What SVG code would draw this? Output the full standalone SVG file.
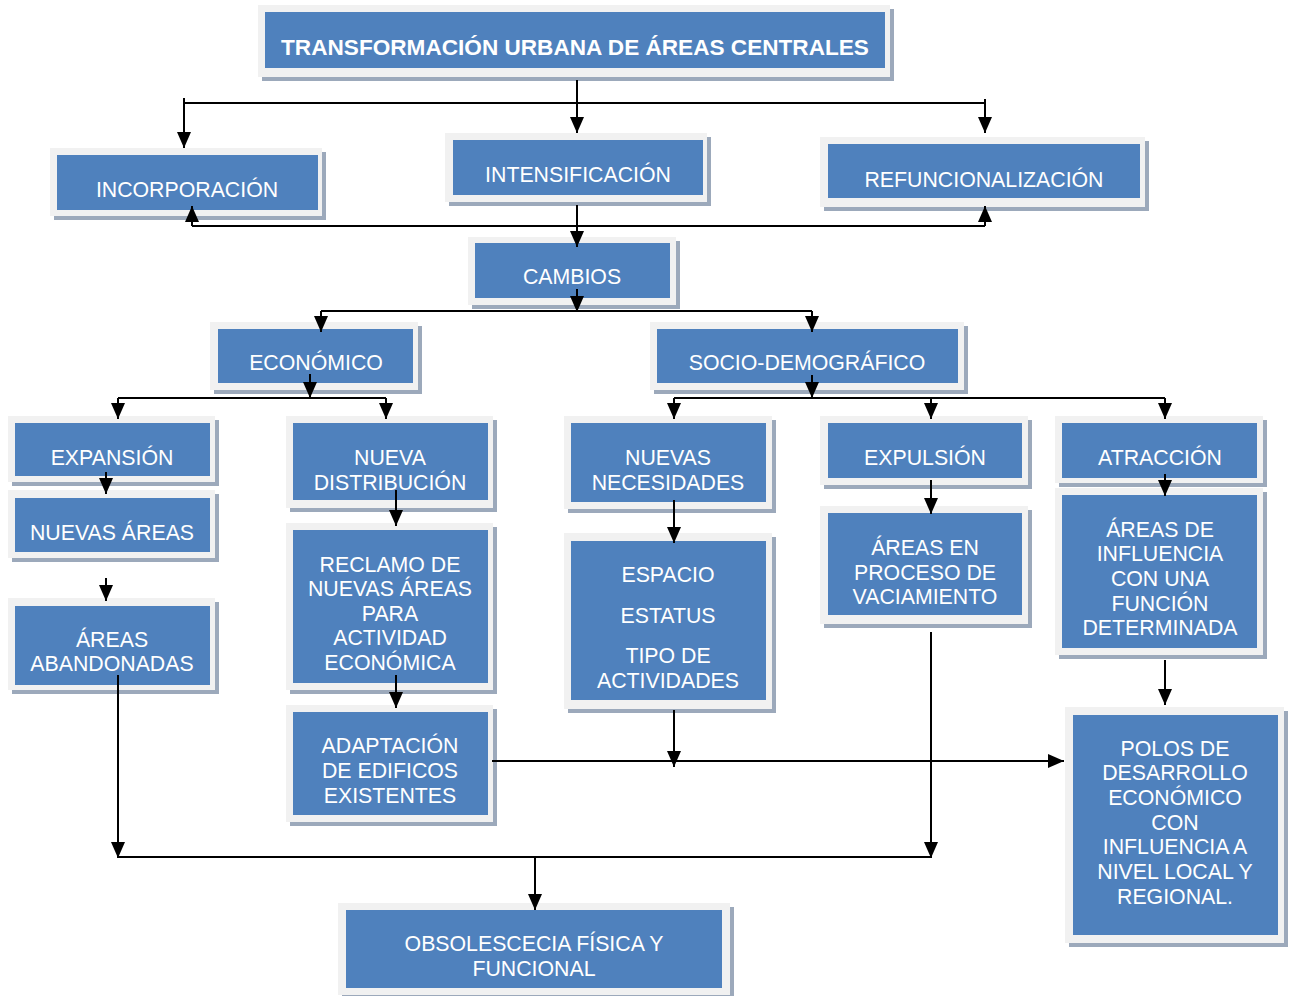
<svg xmlns="http://www.w3.org/2000/svg" width="1289" height="996" viewBox="0 0 1289 996">
<style>
.sh{fill:#9ca9bb}
.fr{fill:#f1f1f1}
.bl{fill:#4f81bd}
.t{font-family:"Liberation Sans",Arial,sans-serif;font-size:21.3px;fill:#ffffff;text-anchor:middle}
.tb{font-family:"Liberation Sans",Arial,sans-serif;font-size:22.6px;font-weight:bold;fill:#ffffff;text-anchor:middle}
.c{fill:none;stroke:#000;stroke-width:2}
.a{marker-end:url(#ah)}
</style>
<defs>
<marker id="ah" markerUnits="userSpaceOnUse" markerWidth="16" markerHeight="14" viewBox="0 0 16 14" refX="16" refY="7" orient="auto">
<path d="M0,0 L16,7 L0,14 z" fill="#000"/>
</marker>
</defs>
<rect width="1289" height="996" fill="#fff"/>

<g id="n-title"><rect class="sh" x="262" y="9" width="632" height="72"/><rect class="fr" x="258" y="5" width="632" height="72"/><rect class="bl" x="265" y="12" width="620" height="56"/><text class="tb" x="575" y="55">TRANSFORMACIÓN URBANA DE ÁREAS CENTRALES</text></g>

<g id="n-incorporacion"><rect class="sh" x="54" y="152" width="272" height="68"/><rect class="fr" x="50" y="148" width="272" height="68"/><rect class="bl" x="57" y="155" width="261" height="55"/><text class="t" x="187" y="197">INCORPORACIÓN</text></g>

<g id="n-intensificacion"><rect class="sh" x="449" y="137" width="262" height="69"/><rect class="fr" x="445" y="133" width="262" height="69"/><rect class="bl" x="453" y="140" width="250" height="55"/><text class="t" x="578" y="182">INTENSIFICACIÓN</text></g>

<g id="n-refuncionalizacion"><rect class="sh" x="824" y="141" width="325" height="70"/><rect class="fr" x="820" y="137" width="325" height="70"/><rect class="bl" x="828" y="144" width="312" height="54"/><text class="t" x="984" y="187">REFUNCIONALIZACIÓN</text></g>

<g id="n-cambios"><rect class="sh" x="472" y="241" width="208" height="68"/><rect class="fr" x="468" y="237" width="208" height="68"/><rect class="bl" x="475" y="243" width="195" height="55"/><text class="t" x="572" y="284">CAMBIOS</text></g>

<g id="n-economico"><rect class="sh" x="214" y="326" width="208" height="68"/><rect class="fr" x="210" y="322" width="208" height="68"/><rect class="bl" x="218" y="329" width="195" height="54"/><text class="t" x="316" y="370">ECONÓMICO</text></g>

<g id="n-socio"><rect class="sh" x="654" y="326" width="314" height="68"/><rect class="fr" x="650" y="322" width="314" height="68"/><rect class="bl" x="657" y="329" width="301" height="54"/><text class="t" x="807" y="370">SOCIO-DEMOGRÁFICO</text></g>

<g id="n-expansion"><rect class="sh" x="12" y="420" width="207" height="66"/><rect class="fr" x="8" y="416" width="207" height="66"/><rect class="bl" x="15" y="423" width="195" height="53"/><text class="t" x="112" y="465">EXPANSIÓN</text></g>

<g id="n-nuevas-areas"><rect class="sh" x="12" y="494" width="207" height="68"/><rect class="fr" x="8" y="490" width="207" height="68"/><rect class="bl" x="15" y="498" width="195" height="54"/><text class="t" x="112" y="540">NUEVAS ÁREAS</text></g>

<g id="n-areas-abandonadas"><rect class="sh" x="12" y="602" width="207" height="92"/><rect class="fr" x="8" y="598" width="207" height="92"/><rect class="bl" x="15" y="606" width="195" height="79"/><text class="t" x="112" y="647">ÁREAS</text><text class="t" x="112" y="671">ABANDONADAS</text></g>

<g id="n-nueva-distribucion"><rect class="sh" x="290" y="420" width="207" height="92"/><rect class="fr" x="286" y="416" width="207" height="92"/><rect class="bl" x="293" y="423" width="195" height="77"/><text class="t" x="390" y="465">NUEVA</text><text class="t" x="390" y="490">DISTRIBUCIÓN</text></g>

<g id="n-reclamo"><rect class="sh" x="290" y="527" width="207" height="167"/><rect class="fr" x="286" y="523" width="207" height="167"/><rect class="bl" x="293" y="530" width="195" height="153"/><text class="t" x="390" y="572">RECLAMO DE</text><text class="t" x="390" y="596">NUEVAS ÁREAS</text><text class="t" x="390" y="621">PARA</text><text class="t" x="390" y="645">ACTIVIDAD</text><text class="t" x="390" y="670">ECONÓMICA</text></g>

<g id="n-adaptacion"><rect class="sh" x="290" y="709" width="207" height="117"/><rect class="fr" x="286" y="705" width="207" height="117"/><rect class="bl" x="293" y="712" width="195" height="103"/><text class="t" x="390" y="753">ADAPTACIÓN</text><text class="t" x="390" y="778">DE EDIFICOS</text><text class="t" x="390" y="803">EXISTENTES</text></g>

<g id="n-nuevas-necesidades"><rect class="sh" x="568" y="420" width="208" height="93"/><rect class="fr" x="564" y="416" width="208" height="93"/><rect class="bl" x="571" y="423" width="195" height="79"/><text class="t" x="668" y="465">NUEVAS</text><text class="t" x="668" y="490">NECESIDADES</text></g>

<g id="n-espacio"><rect class="sh" x="568" y="537" width="208" height="176"/><rect class="fr" x="564" y="533" width="208" height="176"/><rect class="bl" x="571" y="541" width="195" height="159"/><text class="t" x="668" y="582">ESPACIO</text><text class="t" x="668" y="623">ESTATUS</text><text class="t" x="668" y="663">TIPO DE</text><text class="t" x="668" y="688">ACTIVIDADES</text></g>

<g id="n-expulsion"><rect class="sh" x="824" y="420" width="208" height="69"/><rect class="fr" x="820" y="416" width="208" height="69"/><rect class="bl" x="828" y="423" width="194" height="55"/><text class="t" x="925" y="465">EXPULSIÓN</text></g>

<g id="n-vaciamiento"><rect class="sh" x="824" y="510" width="208" height="118"/><rect class="fr" x="820" y="506" width="208" height="118"/><rect class="bl" x="828" y="513" width="194" height="102"/><text class="t" x="925" y="555">ÁREAS EN</text><text class="t" x="925" y="580">PROCESO DE</text><text class="t" x="925" y="604">VACIAMIENTO</text></g>

<g id="n-atraccion"><rect class="sh" x="1059" y="420" width="208" height="67"/><rect class="fr" x="1055" y="416" width="208" height="67"/><rect class="bl" x="1062" y="423" width="195" height="55"/><text class="t" x="1160" y="465">ATRACCIÓN</text></g>

<g id="n-influencia"><rect class="sh" x="1059" y="492" width="208" height="167"/><rect class="fr" x="1055" y="488" width="208" height="167"/><rect class="bl" x="1062" y="495" width="195" height="153"/><text class="t" x="1160" y="537">ÁREAS DE</text><text class="t" x="1160" y="561">INFLUENCIA</text><text class="t" x="1160" y="586">CON UNA</text><text class="t" x="1160" y="611">FUNCIÓN</text><text class="t" x="1160" y="635">DETERMINADA</text></g>

<g id="n-polos"><rect class="sh" x="1069" y="711" width="219" height="236"/><rect class="fr" x="1065" y="707" width="219" height="236"/><rect class="bl" x="1073" y="715" width="205" height="220"/><text class="t" x="1175" y="756">POLOS DE</text><text class="t" x="1175" y="780">DESARROLLO</text><text class="t" x="1175" y="805">ECONÓMICO</text><text class="t" x="1175" y="830">CON</text><text class="t" x="1175" y="854">INFLUENCIA A</text><text class="t" x="1175" y="879">NIVEL LOCAL Y</text><text class="t" x="1175" y="904">REGIONAL.</text></g>

<g id="n-obsolescencia"><rect class="sh" x="342" y="907" width="392" height="92"/><rect class="fr" x="338" y="903" width="392" height="92"/><rect class="bl" x="346" y="910" width="376" height="78"/><text class="t" x="534" y="951">OBSOLESCECIA FÍSICA Y</text><text class="t" x="534" y="976">FUNCIONAL</text></g>

<g id="connectors">
<path class="c a" d="M577,80 V133"/>
<path class="c" d="M184,103 H985"/>
<path class="c a" d="M184,98 V148"/>
<path class="c a" d="M985,99 V133"/>
<path class="c" d="M192,226 H985"/>
<path class="c a" d="M192,226 V206"/>
<path class="c a" d="M985,226 V206"/>
<path class="c a" d="M577,205 V247"/>
<path class="c a" d="M577,289 V312"/>
<path class="c" d="M321,311 H812"/>
<path class="c a" d="M321,311 V332"/>
<path class="c a" d="M812,311 V332"/>
<path class="c a" d="M310,374 V398"/>
<path class="c" d="M118,398 H386"/>
<path class="c a" d="M118,398 V419"/>
<path class="c a" d="M386,398 V419"/>
<path class="c a" d="M812,375 V398"/>
<path class="c" d="M674,398 H1165"/>
<path class="c a" d="M674,398 V419"/>
<path class="c a" d="M931,398 V419"/>
<path class="c a" d="M1165,398 V419"/>
<path class="c a" d="M106,472 V494"/>
<path class="c a" d="M106,578 V601"/>
<path class="c a" d="M118,675 V858"/>
<path class="c a" d="M396,490 V526"/>
<path class="c a" d="M396,675 V708"/>
<path class="c a" d="M674,500 V543"/>
<path class="c a" d="M931,480 V514"/>
<path class="c a" d="M1165,474 V496"/>
<path class="c a" d="M1165,660 V705"/>
<path class="c a" d="M492,761 H1064"/>
<path class="c a" d="M674,710 V767"/>
<path class="c a" d="M931,632 V858"/>
<path class="c" d="M118,857 H931"/>
<path class="c a" d="M535,857 V910"/>
</g>
</svg>
